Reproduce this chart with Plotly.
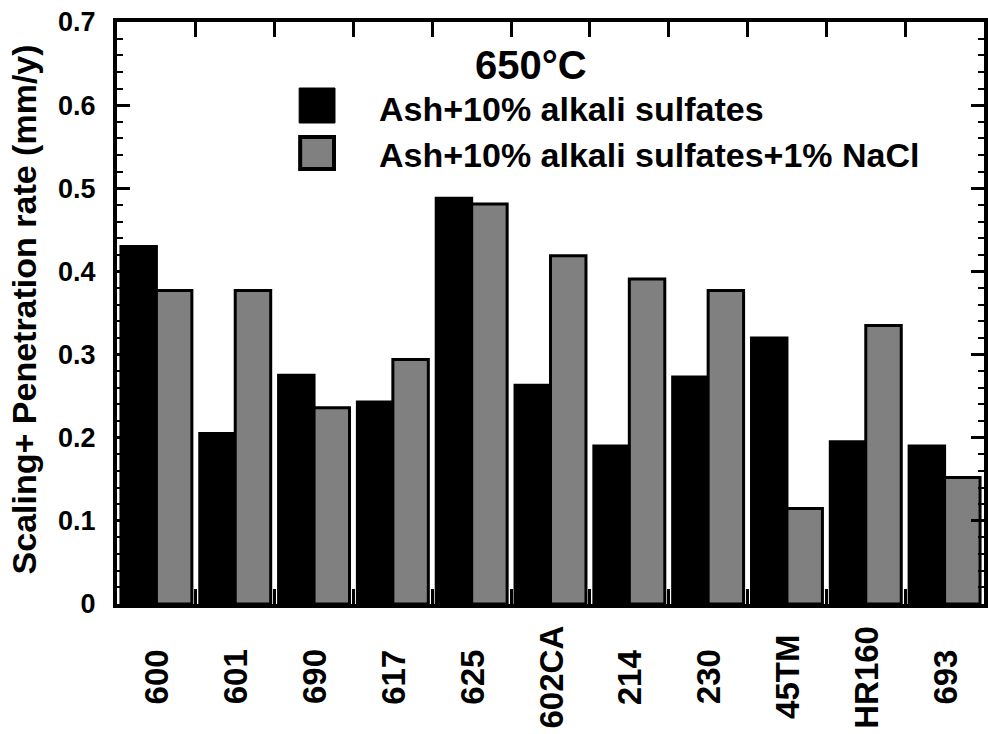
import plotly.graph_objects as go

# Alloys tested at 650 °C
alloys = ["600", "601", "690", "617", "625", "602CA", "214", "230", "45TM", "HR160", "693"]

# Scaling + penetration rate (mm/y) for the two deposit chemistries
series_a_name = "Ash+10% alkali sulfates"
series_a = [0.43, 0.205, 0.275, 0.243, 0.488, 0.263, 0.19, 0.273, 0.32, 0.195, 0.19]

series_b_name = "Ash+10% alkali sulfates+1% NaCl"
series_b = [0.377, 0.377, 0.236, 0.294, 0.481, 0.419, 0.391, 0.377, 0.115, 0.335, 0.152]

y_ticks = [0, 0.1, 0.2, 0.3, 0.4, 0.5, 0.6, 0.7]
y_tick_text = ["0", "0.1", "0.2", "0.3", "0.4", "0.5", "0.6", "0.7"]

title_text = "650°C"
y_title = "Scaling+ Penetration rate (mm/y)"

W, H = 988, 734
ML, MR, MT, MB = 117, 0, 22, 130
PW, PH = W - ML - MR, H - MT - MB


def px_x(x):
    return (x - ML) / PW


def px_y(y):
    return (H - MB - y) / PH


FONT = "Liberation Sans, Arial, sans-serif"

fig = go.Figure()
fig.add_trace(go.Bar(
    x=alloys, y=series_a, name=series_a_name,
    marker=dict(color="#000000", line=dict(color="#000000", width=3)),
))
fig.add_trace(go.Bar(
    x=alloys, y=series_b, name=series_b_name,
    marker=dict(color="#808080", line=dict(color="#000000", width=3)),
))

fig.update_layout(
    width=W, height=H,
    margin=dict(l=ML, r=MR, t=MT, b=MB),
    paper_bgcolor="white", plot_bgcolor="white",
    barmode="group", bargap=0.1, bargroupgap=0.0,
    showlegend=False,
    font=dict(family=FONT, color="black"),
)

fig.update_xaxes(
    type="category", range=[-0.5, len(alloys) - 0.5],
    showticklabels=False,
    tickson="boundaries", ticks="inside", ticklen=15, tickwidth=3, tickcolor="black",
    showline=True, linewidth=4, linecolor="black", mirror="allticks",
    showgrid=False, zeroline=False,
)

fig.update_yaxes(
    range=[0, 0.7],
    tickvals=y_ticks, ticktext=y_tick_text,
    ticks="inside", ticklen=13, tickwidth=3, tickcolor="black",
    ticklabelstandoff=12,
    tickfont=dict(family=FONT, size=27, weight="bold", color="black"),
    minor=dict(dtick=0.02, ticks="inside", ticklen=6, tickwidth=2, tickcolor="black", showgrid=False),
    showline=True, linewidth=4, linecolor="black", mirror="allticks",
    showgrid=False, zeroline=False,
)

annotations = []
# Category labels, rotated and centred below the axis (placed by category index)
for i, name in enumerate(alloys):
    annotations.append(dict(
        x=i, xref="x", y=px_y(677), yref="paper",
        text=name, textangle=-90, showarrow=False,
        xanchor="center", yanchor="middle",
        font=dict(family=FONT, size=33, weight="bold", color="black"),
    ))

# Y-axis title
annotations.append(dict(
    x=px_x(24), xref="paper", y=px_y(309), yref="paper",
    text=y_title, textangle=-90, showarrow=False,
    xanchor="center", yanchor="middle",
    font=dict(family=FONT, size=34, weight="bold", color="black"),
))

# Temperature heading
annotations.append(dict(
    x=px_x(533), xref="paper", y=px_y(65), yref="paper",
    text=title_text, showarrow=False, xanchor="center", yanchor="middle",
    font=dict(family=FONT, size=40, weight="bold", color="black"),
))

# Key entries
for name, yc in [(series_a_name, 109), (series_b_name, 155)]:
    annotations.append(dict(
        x=px_x(378), xref="paper", y=px_y(yc), yref="paper",
        text=name, showarrow=False, xanchor="left", yanchor="middle",
        font=dict(family=FONT, size=34, weight="bold", color="black"),
    ))

shapes = [
    dict(type="rect", xref="paper", yref="paper",
         x0=px_x(300), x1=px_x(336), y0=px_y(123), y1=px_y(88),
         fillcolor="#000000", line=dict(color="#000000", width=1)),
    dict(type="rect", xref="paper", yref="paper",
         x0=px_x(301), x1=px_x(335), y0=px_y(169), y1=px_y(137),
         fillcolor="#808080", line=dict(color="#000000", width=4)),
]

fig.update_layout(annotations=annotations, shapes=shapes)

fig.write_html("out.html")
